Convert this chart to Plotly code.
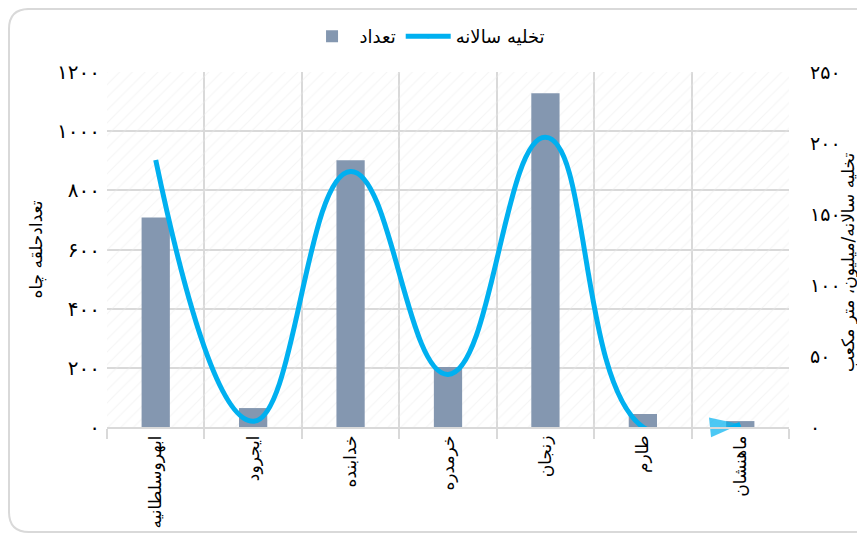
import plotly.graph_objects as go

# data
regions = ["ابهروسلطانیه", "ایجرود", "خدابنده", "خرمدره", "زنجان", "طارم", "ماهنشان"]
wells = [708, 64, 902, 203, 1128, 44, 20]          # تعداد حلقه چاه
discharge = [188, 4, 180, 37, 204, 0, 2]            # تخلیه سالانه (میلیون متر مکعب)

left_ticks = [0, 200, 400, 600, 800, 1000, 1200]
left_text = ["۰", "۲۰۰", "۴۰۰", "۶۰۰", "۸۰۰", "۱۰۰۰", "۱۲۰۰"]
right_ticks = [0, 50, 100, 150, 200, 250]
right_text = ["۰", "۵۰", "۱۰۰", "۱۵۰", "۲۰۰", "۲۵۰"]

font = "DejaVu Sans"
grid = "#D9D9D9"

# the page body adds an 8px offset, so figure pixels = screen pixels - 8
W, H = 865, 533
ML, MR, MT, MB = 99, 84, 64, 114
pw, ph = W - ML - MR, H - MT - MB


def px(x, y):
    # figure pixel position -> paper coordinates
    return (x - ML) / pw, (H - MB - y) / ph


def border_path(x0, y0, x1, y1, r):
    pts = [("M", x0, y0 + r), ("Q", x0, y0, x0 + r, y0), ("L", x1 - r, y0), ("Q", x1, y0, x1, y0 + r),
           ("L", x1, y1 - r), ("Q", x1, y1, x1 - r, y1), ("L", x0 + r, y1), ("Q", x0, y1, x0, y1 - r)]
    out = []
    for p in pts:
        cmd, coords = p[0], p[1:]
        xy = []
        for i in range(0, len(coords), 2):
            a, b = px(coords[i], coords[i + 1])
            xy.append(f"{a:.4f},{b:.4f}")
        out.append(cmd + " " + " ".join(xy))
    return " ".join(out) + " Z"


n = len(regions)
fig = go.Figure()

# hatched plot background
fig.add_trace(go.Bar(
    x=[regions[n // 2]], y=[left_ticks[-1]], width=n,
    marker=dict(color="rgba(0,0,0,0)", line_width=0,
                pattern=dict(shape="/", fgcolor="#EAEAEA", bgcolor="rgba(0,0,0,0)",
                             size=9, solidity=0.12)),
    showlegend=False, hoverinfo="skip",
))

fig.add_trace(go.Bar(
    x=regions, y=wells, name="تعداد", width=0.29,
    marker=dict(color="#8497B0", line_width=0),
))

# arrow head only on the last point, pointing right
fig.add_trace(go.Scatter(
    x=regions, y=discharge, name="تخلیه سالانه", yaxis="y2",
    mode="lines+markers", line=dict(color="#00B0F0", width=5, shape="spline", smoothing=1.3),
    marker=dict(symbol=["circle"] * (n - 1) + ["arrow"], size=[0] * (n - 1) + [32],
                angle=[0] * (n - 1) + [84], angleref="up",
                color="#00B0F0", line_width=0),
    cliponaxis=False,
))

fig.update_layout(
    width=W, height=H,
    margin=dict(l=ML, r=MR, t=MT, b=MB, autoexpand=False),
    paper_bgcolor="white", plot_bgcolor="white",
    barmode="overlay",
    font=dict(family=font, size=16, color="#000000"),
    legend=dict(orientation="h", x=0.47, xanchor="center", y=1.1, yanchor="middle",
                font=dict(size=18), itemwidth=45),
    xaxis=dict(type="category", categoryorder="array", categoryarray=regions, automargin=False,
               tickson="boundaries", showgrid=True, gridcolor=grid,
               gridwidth=1.5, ticks="outside", ticklen=10, tickcolor=grid, tickwidth=1.5,
               showline=True, linecolor=grid, linewidth=1.5, tickangle=-90,
               tickfont=dict(size=17), range=[-0.5, n - 0.5]),
    yaxis=dict(range=[0, 1200], tickvals=left_ticks, ticktext=left_text, showgrid=True,
               gridcolor=grid, gridwidth=1.5, zeroline=False, ticks="", ticklabelstandoff=6,
               tickfont=dict(size=20), automargin=False,
               title=dict(text="تعدادحلقه چاه", standoff=10, font=dict(size=17))),
    yaxis2=dict(range=[0, 250], tickvals=right_ticks, ticktext=right_text, overlaying="y",
                side="right", showgrid=False, zeroline=False, ticks="", ticklabelstandoff=20,
                tickfont=dict(size=19), automargin=False),
    annotations=[dict(text="تخلیه سالانه/میلیون، متر مکعب", textangle=-90,
                      x=px(840, 0)[0], y=px(0, 254)[1], xref="paper", yref="paper",
                      xanchor="center", yanchor="middle",
                      showarrow=False, font=dict(size=17))],
    shapes=[dict(type="path", xref="paper", yref="paper", layer="below",
                 path=border_path(1, 1, 870, 524, 20),
                 line=dict(color="#D9D9D9", width=2))],
)

fig.write_html("out.html")
